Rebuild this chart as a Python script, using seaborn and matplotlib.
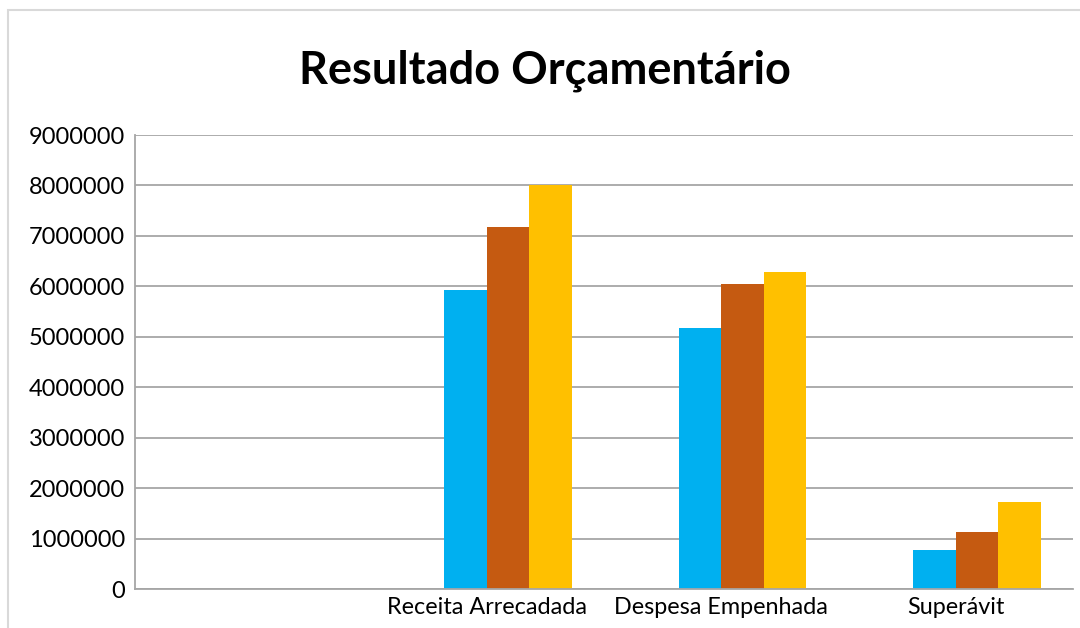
import pandas as pd
import matplotlib.pyplot as plt
import seaborn as sns
from matplotlib.patches import Rectangle

# valores (a primeira série está vazia no original)
categorias = ['', 'Receita Arrecadada', 'Despesa Empenhada', 'Superávit']
series = ['Série 1', '2015', '2016', '2017']
valores_s1 = [0, 0, 0, 0]
valores_2015 = [2015, 5930000, 5170000, 770000]
valores_2016 = [2016, 7180000, 6050000, 1130000]
valores_2017 = [2017, 8000000, 6280000, 1720000]
yticks = [0, 1000000, 2000000, 3000000, 4000000, 5000000, 6000000, 7000000, 8000000, 9000000]
cores = ['#5B9BD5', '#00B0F0', '#C55A11', '#FFC000']

linhas = []
for serie, vals in zip(series, [valores_s1, valores_2015, valores_2016, valores_2017]):
    for cat, v in zip(categorias, vals):
        linhas.append({'categoria': cat, 'serie': serie, 'valor': v})
df = pd.DataFrame(linhas)

sns.set_style('white')
plt.rcParams['font.family'] = ['Lato', 'DejaVu Sans']

fig = plt.figure(figsize=(10.8, 6.28), dpi=100)
ax = fig.add_axes([0.125, 0.0621, 0.8685, 0.7229])

# moldura clara do gráfico
fig.patches.append(Rectangle((0.0075, -0.1), 1.2, 1.084, transform=fig.transFigure,
                             fill=False, edgecolor='#D9D9D9', linewidth=1.5))

sns.barplot(data=df, x='categoria', y='valor', hue='serie', order=categorias,
            hue_order=series, palette=cores, saturation=1, width=0.727,
            linewidth=0, legend=False, ax=ax)

ax.set_ylim(0, 9000000)
ax.set_yticks(yticks)
ax.set_yticklabels([str(t) for t in yticks], fontsize=17, color='black')
for lbl in ax.get_xticklabels():
    lbl.set_fontsize(16.8)
    lbl.set_color('black')
ax.tick_params(axis='x', length=0, pad=6)
ax.tick_params(axis='y', length=0, pad=7)
ax.yaxis.grid(True, color='#A6A6A6', linewidth=1.3)
ax.set_axisbelow(True)
ax.set_xlabel('')
ax.set_ylabel('')

for s in ['top', 'right']:
    ax.spines[s].set_visible(False)
for s in ['left', 'bottom']:
    ax.spines[s].set_color('#A6A6A6')
    ax.spines[s].set_linewidth(1.3)

fig.text(0.505, 0.888, 'Resultado Orçamentário', ha='center', va='center',
         fontsize=32.5, fontweight='bold', color='black')

fig.savefig('out.png', dpi=100)
